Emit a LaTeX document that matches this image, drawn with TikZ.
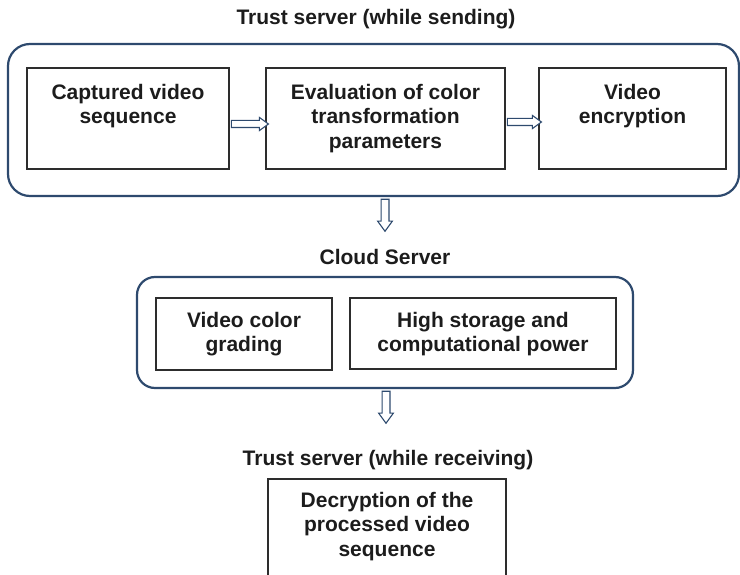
\documentclass[tikz,border=0pt]{standalone}
\usepackage{fontspec}
\setmainfont{Liberation Sans}
\usetikzlibrary{shapes.arrows,calc}
\definecolor{frame}{RGB}{46,74,110}
\definecolor{ink}{RGB}{28,28,28}
\definecolor{boxline}{RGB}{45,45,45}

\tikzset{
  lbl/.style={font=\bfseries\fontsize{21}{24.5}\selectfont, text=ink, inner sep=0pt, align=center},
  group/.style={draw=frame, line width=2.2pt, rounded corners=#1, inner sep=0pt},
  stage/.style={draw=boxline, line width=1.2pt, inner sep=0pt},
  flow/.style={single arrow, draw=frame, fill=white, line width=1.1pt,
    inner xsep=0pt, inner ysep=#1, single arrow tip angle=72,
    single arrow head extend=#1},
  hflow/.style={flow=3pt},
  vflow/.style={flow=3.4pt, rotate=-90}
}

\begin{document}
\begin{tikzpicture}[x=1pt,y=-1pt]
\useasboundingbox (0,0) rectangle (740,575);

% ---- trust server, sending side ----
\node[lbl, anchor=base] (t-send) at (376,25) {Trust server (while sending)};
\node[group=22pt, minimum width=731pt, minimum height=152pt] (send) at (373.5,120) {};

\node[stage, minimum width=202pt, minimum height=101pt] (cap) at (128,118.5) {};
\node[stage, minimum width=239pt, minimum height=101pt] (eval) at (385.5,118.5) {};
\node[stage, minimum width=187pt, minimum height=101pt] (enc) at (632.5,118.5) {};

\node[lbl, anchor=north] (cap-t) at ([yshift=-16.6pt]cap.north) {Captured video\\sequence};
\node[lbl, anchor=north] (eval-t) at ([yshift=-16.6pt]eval.north) {Evaluation of color\\transformation\\parameters};
\node[lbl, anchor=north] (enc-t) at ([yshift=-16.6pt]enc.north) {Video\\encryption};

\path (cap.east) -- (eval.west) node[midway, yshift=-5.5pt, hflow, minimum height=37pt] {};
\path (eval.east) -- (enc.west) node[midway, yshift=-3.5pt, hflow, minimum height=34pt] {};

% ---- cloud server ----
\coordinate (dn1) at (385,228);
\path (send.south -| dn1) -- (dn1) node[midway, vflow, minimum height=32pt] {};

\node[lbl, anchor=base] (t-cloud) at (385,265) {Cloud Server};
\node[group=18pt, minimum width=496pt, minimum height=111pt] (cloud) at (385,332.5) {};

\node[stage, minimum width=176pt, minimum height=72pt] (grade) at (244,334) {};
\node[stage, minimum width=266pt, minimum height=71pt] (store) at (483,333.5) {};

\node[lbl, anchor=north] (grade-t) at ([yshift=-14.6pt]grade.north) {Video color\\grading};
\node[lbl, anchor=north] (store-t) at ([yshift=-14.6pt]store.north) {High storage and\\computational power};

% ---- trust server, receiving side ----
\coordinate (dn2) at (386,420);
\path (cloud.south -| dn2) -- (dn2) node[midway, vflow, minimum height=32pt] {};

\node[lbl, anchor=base] (t-recv) at (388,465) {Trust server (while receiving)};
\node[stage, minimum width=238pt, minimum height=120pt] (dec) at (387,539) {};
\node[lbl, anchor=north] (dec-t) at ([yshift=-13.6pt]dec.north) {Decryption of the\\processed video\\sequence};
\end{tikzpicture}
\end{document}
